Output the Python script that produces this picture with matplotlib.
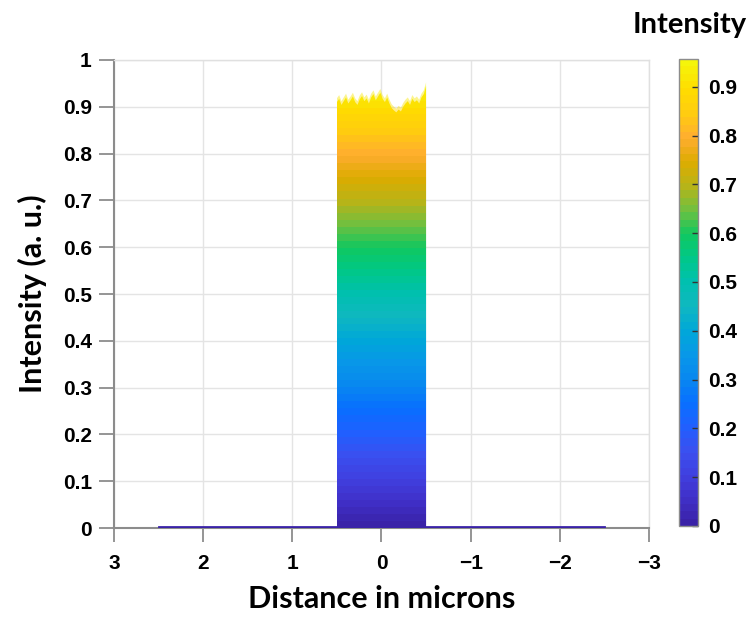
import numpy as np
import matplotlib
matplotlib.use('Agg')
import matplotlib.pyplot as plt
from matplotlib.colors import LinearSegmentedColormap, Normalize
from matplotlib.patches import Polygon
from matplotlib.cm import ScalarMappable

# colour stops (value -> colour)
cbar_stops = [0.0, 0.05, 0.1, 0.15, 0.2, 0.25, 0.3, 0.35, 0.4, 0.45, 0.5,
              0.55, 0.6, 0.65, 0.7, 0.75, 0.8, 0.85, 0.9, 0.957]
cbar_colors = ['#3a22a8', '#4030c8', '#4040e0', '#3a50f0', '#2060ff', '#0870ff',
               '#0888f0', '#0898e8', '#00a8d8', '#10b8c0', '#00c0b0', '#00c888',
               '#10c860', '#70c040', '#b8b418', '#ddac00', '#ffad30', '#ffcc10',
               '#ffdc00', '#f5f50a']
vmin, vmax = 0.0, 0.957

# beam profile: flat top between +0.5 and -0.5 microns, zero out to +-2.5
bar_left, bar_right = 0.5, -0.5
base_left, base_right = 2.5, -2.5
top_profile = [0.918, 0.925, 0.912, 0.920, 0.928, 0.915, 0.922, 0.930, 0.918, 0.912,
               0.924, 0.931, 0.920, 0.926, 0.915, 0.928, 0.935, 0.922, 0.930, 0.938,
               0.925, 0.918, 0.928, 0.915, 0.905, 0.900, 0.896, 0.902, 0.898, 0.908,
               0.915, 0.920, 0.912, 0.925, 0.918, 0.922, 0.915, 0.928, 0.935, 0.952]

xticks = [3, 2, 1, 0, -1, -2, -3]
yticks = [0, 0.1, 0.2, 0.3, 0.4, 0.5, 0.6, 0.7, 0.8, 0.9, 1]
cticks = [0, 0.1, 0.2, 0.3, 0.4, 0.5, 0.6, 0.7, 0.8, 0.9]

pos = [(s - vmin) / (vmax - vmin) for s in cbar_stops]
cmap = LinearSegmentedColormap.from_list('parula_like', list(zip(pos, cbar_colors)), N=64)
norm = Normalize(vmin, vmax)

fig = plt.figure(figsize=(7.48, 6.17), dpi=100)
ax = fig.add_axes([0.1524, 0.1442, 0.7152, 0.7586])
cax = fig.add_axes([0.9078, 0.1475, 0.0254, 0.7569])

ax.set_xlim(3, -3)
ax.set_ylim(0, 1)
ax.set_xticks(xticks)
ax.set_yticks(yticks)
ax.set_xticklabels([('%g' % t).replace('-', '\u2212') for t in xticks])
ax.set_yticklabels(['%g' % t for t in yticks])
ax.grid(True, color='#e4e4e4', linewidth=1)
ax.set_axisbelow(True)

# gradient image clipped to the profile
gy = np.linspace(0, 1, 400).reshape(-1, 1)
xs = np.linspace(bar_left, bar_right, len(top_profile))
for shift, alpha in [(0.0, 0.45), (-0.008, 1.0)]:
    im = ax.imshow(gy, cmap=cmap, norm=norm, origin='lower', aspect='auto',
                   extent=[bar_left, bar_right, 0, 1], alpha=alpha, zorder=2,
                   interpolation='nearest')
    verts = [(bar_left, 0)] + [(x, y + shift) for x, y in zip(xs, top_profile)] + [(bar_right, 0)]
    clip = Polygon(verts, closed=True, transform=ax.transData, facecolor='none', edgecolor='none')
    ax.add_patch(clip)
    im.set_clip_path(clip)

ax.plot([base_left, base_right], [0.003, 0.003], color=cbar_colors[0], linewidth=2, zorder=3)
ax.set_xlim(3, -3)
ax.set_ylim(0, 1)

for s in ['left', 'bottom']:
    ax.spines[s].set_color('#8c8c8c')
    ax.spines[s].set_linewidth(1.5)
for s in ['top', 'right']:
    ax.spines[s].set_color('#e0e0e0')
    ax.spines[s].set_linewidth(1)

ax.tick_params(axis='y', direction='out', length=11, width=1.3, color='#8c8c8c', pad=5)
ax.tick_params(axis='x', direction='out', length=10, width=1.3, color='#8c8c8c', pad=9)
for lab in ax.get_xticklabels() + ax.get_yticklabels():
    lab.set_fontfamily('Liberation Sans')
    lab.set_fontweight('bold')
    lab.set_fontsize(15)

ax.set_xlabel('Distance in microns', fontfamily='Lato', fontweight='bold', fontsize=22, labelpad=8)
ax.set_ylabel('Intensity (a. u.)', fontfamily='Lato', fontweight='bold', fontsize=22, labelpad=11)

cb = fig.colorbar(ScalarMappable(norm=norm, cmap=cmap), cax=cax, ticks=cticks)
cb.outline.set_edgecolor('#8c8c8c')
cb.outline.set_linewidth(1)
cax.tick_params(direction='in', length=4, width=1, color='#333333', pad=7)
cax.set_yticklabels(['%g' % t for t in cticks])
for lab in cax.get_yticklabels():
    lab.set_fontfamily('Liberation Sans')
    lab.set_fontweight('bold')
    lab.set_fontsize(15)

fig.text(0.922, 0.959, 'Intensity', ha='center', va='center',
         fontfamily='Lato', fontweight='bold', fontsize=21)

fig.savefig('out.png', dpi=100)
